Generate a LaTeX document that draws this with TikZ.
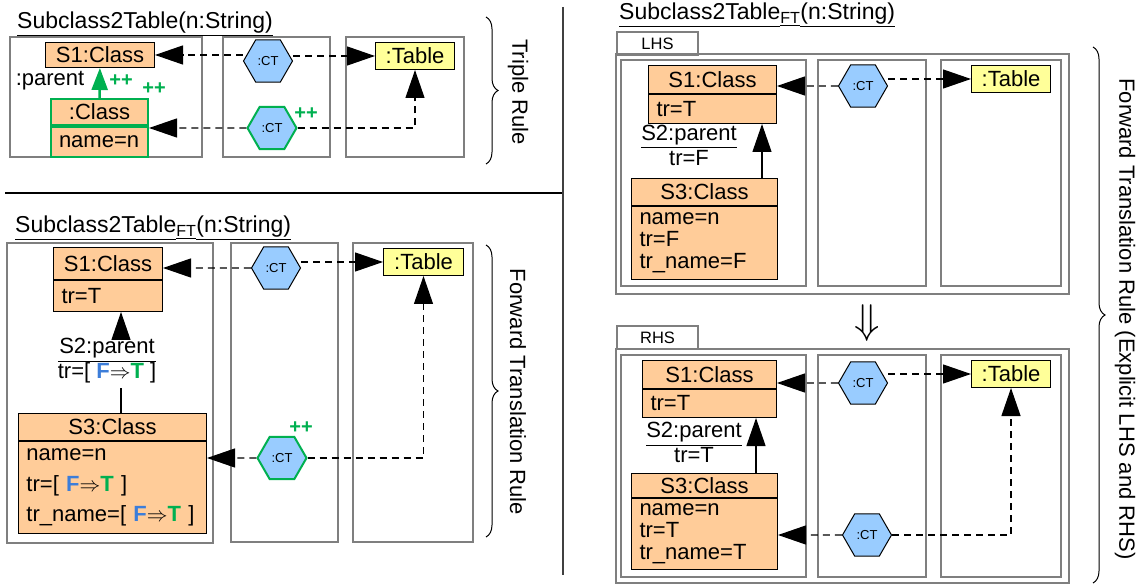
\documentclass[tikz,border=0pt]{standalone}
\usepackage{fontspec}
\setmainfont{Liberation Sans}
\usepackage{tikz}
\usetikzlibrary{positioning,shapes.geometric,arrows.meta,decorations.pathreplacing}
\definecolor{classfill}{HTML}{FFCC99}
\definecolor{tablefill}{HTML}{FFFF99}
\definecolor{ctfill}{HTML}{99CCFF}
\definecolor{newgreen}{HTML}{00B050}
\definecolor{fblue}{HTML}{3C7DD9}
\definecolor{framegray}{HTML}{7F7F7F}
\newcommand{\trFT}{[ {\color{fblue}\bfseries F}$\Rightarrow${\color{newgreen}\bfseries T} ]}
\newcommand{\linklabel}[2]{\begin{tabular}{@{}c@{}}#1\\\hline #2\end{tabular}}
\setlength{\arrayrulewidth}{1pt}

\begin{document}
\begin{tikzpicture}[x=1pt,y=-1pt,
    font=\fontsize{22}{24}\selectfont,
    >={Triangle[length=28pt,width=19pt]},
    rulebox/.style={draw=framegray,line width=2pt},
    tabbox/.style={draw=framegray,line width=2pt,anchor=north west,minimum width=81,minimum height=23,
      inner sep=0pt,font=\fontsize{16.5}{18}\selectfont},
    clshead/.style={draw,fill=classfill,line width=1pt,inner sep=0pt,anchor=north west},
    clsbody/.style={clshead,inner xsep=8pt,align=left},
    greenbox/.style={draw=newgreen,line width=2pt},
    tbl/.style={draw,fill=tablefill,line width=1pt,inner sep=0pt,anchor=north west,minimum width=79,minimum height=27},
    ct/.style={regular polygon,regular polygon sides=6,draw,fill=ctfill,line width=1pt,minimum size=49,
      inner sep=0pt,font=\fontsize{13}{13}\selectfont},
    newct/.style={draw=newgreen,line width=2pt},
    created/.style={text=newgreen,font=\fontsize{20}{20}\selectfont\bfseries,inner sep=0pt},
    corr/.style={->,dash pattern=on 7pt off 5pt,line width=1.2pt},
    rel/.style={->,line width=1.2pt},
    newrel/.style={-{Triangle[length=22pt,width=16pt]},draw=newgreen,line width=2.5pt},
    curly/.style={decorate,decoration={brace,amplitude=12pt},line width=1pt},
    title/.style={anchor=base west,inner sep=0pt,font=\fontsize{23}{26}\selectfont}]
  \useasboundingbox (0,0) rectangle (1146,585);

  % separators
  \draw[line width=1.3pt] (5,193) -- (563,193);
  \draw[line width=2pt,draw=darkgray] (563,7) -- (563,575);

  % triple rule
  \node[title] (ttitle) at (17,29) {\underline{Subclass2Table(n:String)}};
  \draw[rulebox] (10,37) rectangle (202,157);
  \draw[rulebox] (223,37) rectangle (330,157);
  \draw[rulebox] (346,37) rectangle (464,157);
  \node[clshead,minimum width=109,minimum height=25] (ts1) at (45,42) {S1:Class};
  \node[clshead,greenbox,minimum width=97,minimum height=26] (tch) at (50,98) {:Class};
  \node[clsbody,greenbox,text width=81pt,minimum height=30] (tcb) at (tch.south west) {name=n};
  \node (tpar) at (50,81) {:parent};
  \node[created] (tp1) at (121,81) {++};
  \node[created] (tp2) at (154,89) {++};
  \node[tbl] (ttab) at (375,42) {:Table};
  \node[ct] (tct1) at (268,61) {:CT};
  \node[ct,newct] (tct2) at (272,128) {:CT};
  \node[created] (tp3) at (306,114) {++};
  \draw[newrel] (tch) -- (ts1);
  \path[corr] (tct1.west |- ts1.east) edge (ts1.east)
    (tct1.east |- ttab.west) edge (ttab.west)
    (tct2) edge (tct2 -| tcb.east);
  \draw[corr] (tct2) -| (ttab);
  \draw[curly] (486,17) -- (486,164);
  \node[rotate=-90] (trip) at (518,92) {Triple Rule};

  % forward translation rule
  \node[title] (btitle) at (15,233) {\underline{Subclass2Table\vphantom{()}}\textsubscript{\underline{FT}}\underline{(n:String)}};
  \draw[rulebox] (7,243) rectangle (213,543);
  \draw[rulebox] (231,243) rectangle (338,542);
  \draw[rulebox] (353,243) rectangle (473,542);
  \node[clshead,minimum width=109,minimum height=32] (bs1h) at (53,247) {S1:Class};
  \node[clsbody,text width=93pt,minimum height=31] (bs1b) at (bs1h.south west) {tr=T};
  \node[clshead,minimum width=188,minimum height=27] (bs3h) at (18,413) {S3:Class};
  \node[clsbody,text width=172pt,minimum height=92,font=\fontsize{22}{30.5}\selectfont] (bs3b) at (bs3h.south west)
    {name=n\\tr=\trFT\\tr\_name=\trFT};
  \node[tbl,minimum width=80] (btab) at (383,248) {:Table};
  \node[ct] (bct1) at (276,268) {:CT};
  \node[ct,newct] (bct2) at (282,458) {:CT};
  \node[created] (bp) at (301,428) {++};
  \node[inner sep=2pt] (bpar) at (107,361) {\linklabel{S2:parent}{tr=\trFT}};
  \coordinate (bx) at (121,0);
  \draw[line width=1.2pt] (bs3h.north -| bx) -- (bpar.south -| bx);
  \draw[rel] (bpar.north -| bx) -- (bs1b.south -| bx);
  \path[corr] (bct1) edge (bct1 -| bs1h.east)
    (bct1.east |- btab.west) edge (btab.west)
    (bct2) edge (bct2 -| bs3b.east);
  \draw[corr] (bct2) -| (btab);
  \draw[curly] (486,245) -- (486,537);
  \node[rotate=-90] (ftr) at (518,392) {Forward Translation Rule};

  % explicit LHS and RHS
  \node[title] (rtitle) at (619,20) {\underline{Subclass2Table\vphantom{()}}\textsubscript{\underline{FT}}\underline{(n:String)}};
  \node[tabbox] (lhs) at (616,31) {LHS};
  \draw[rulebox] (616,54) rectangle (1069,294);
  \draw[rulebox] (621,60) rectangle (806,286);
  \draw[rulebox] (818,60) rectangle (926,286);
  \draw[rulebox] (941,60) rectangle (1061,286);
  \node[clshead,minimum width=128,minimum height=28] (ls1h) at (648,65) {S1:Class};
  \node[clsbody,text width=112pt,minimum height=29] (ls1b) at (ls1h.south west) {tr=T};
  \node[clshead,minimum width=146,minimum height=27] (ls3h) at (631,178) {S3:Class};
  \node[clsbody,text width=130pt,minimum height=73,font=\fontsize{22}{22}\selectfont] (ls3b) at (ls3h.south west)
    {name=n\\tr=F\\tr\_name=F};
  \node[tbl] (ltab) at (971,65) {:Table};
  \node[ct] (lct) at (863,86) {:CT};
  \coordinate (lx) at (762,0);
  \draw[rel] (ls3h.north -| lx) -- (ls1b.south -| lx);
  \node[inner sep=1pt] (lpar) at (689,148) {\linklabel{S2:parent}{tr=F}};
  \path[corr] (lct) edge (lct -| ls1b.east)
    (lct.east |- ltab.west) edge (ltab.west);

  \node[scale=2] (down) at (867,323) {$\Downarrow$};

  \node[tabbox] (rhs) at (616,325) {RHS};
  \draw[rulebox] (616,349) rectangle (1069,583);
  \draw[rulebox] (621,355) rectangle (806,577);
  \draw[rulebox] (818,355) rectangle (926,577);
  \draw[rulebox] (941,355) rectangle (1061,577);
  \node[clshead,minimum width=134,minimum height=28] (rs1h) at (642,360) {S1:Class};
  \node[clsbody,text width=118pt,minimum height=28] (rs1b) at (rs1h.south west) {tr=T};
  \node[clshead,minimum width=146,minimum height=24] (rs3h) at (631,473) {S3:Class};
  \node[clsbody,text width=130pt,minimum height=71,font=\fontsize{22}{22}\selectfont] (rs3b) at (rs3h.south west)
    {name=n\\tr=T\\tr\_name=T};
  \node[tbl] (rtab) at (971,360) {:Table};
  \node[ct] (rct1) at (863,383) {:CT};
  \node[ct] (rct2) at (867,535) {:CT};
  \coordinate (rx) at (756,0);
  \draw[rel] (rs3h.north -| rx) -- (rs1b.south -| rx);
  \node[inner sep=1pt] (rpar) at (694,445) {\linklabel{S2:parent}{tr=T}};
  \path[corr] (rct1) edge (rct1 -| rs1b.east)
    (rct1.east |- rtab.west) edge (rtab.west)
    (rct2) edge (rct2 -| rs3b.east);
  \draw[corr] (rct2) -| (rtab);
  \draw[curly] (1093,47) -- (1093,583);
  \node[rotate=-90] (ftre) at (1125,319) {Forward Translation Rule (Explicit LHS and RHS)};
\end{tikzpicture}
\end{document}
